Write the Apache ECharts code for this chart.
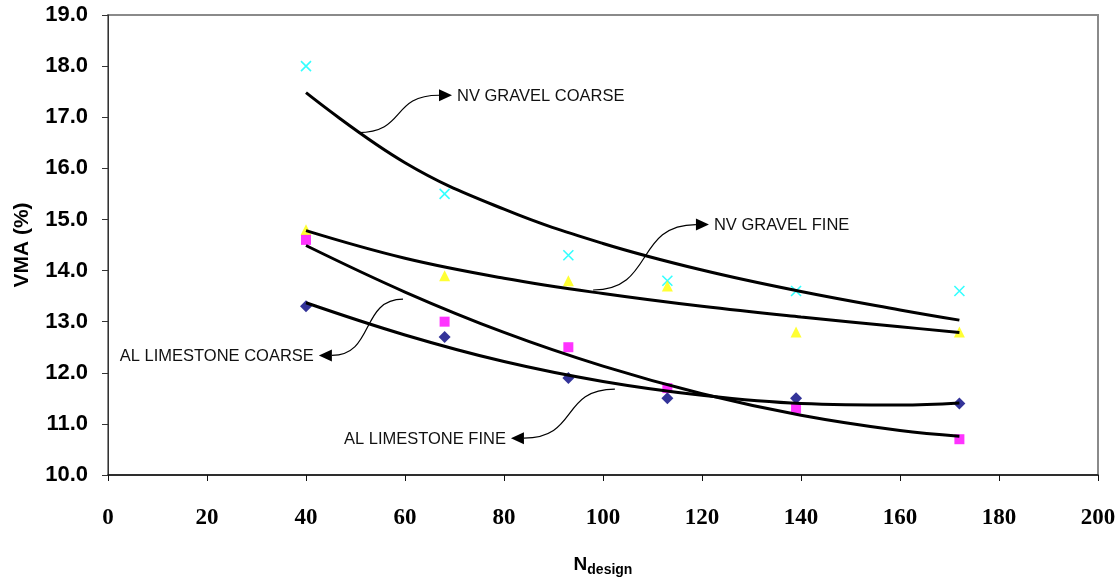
<!DOCTYPE html>
<html>
<head>
<meta charset="utf-8">
<script src="https://cdn.jsdelivr.net/npm/echarts@6/dist/echarts.min.js"></script>
<style>
  html, body { margin: 0; padding: 0; background: #fff; }
  #chart { width: 1119px; height: 582px; }
</style>
</head>
<body>
<div id="chart"></div>
<script>
// Measured VMA (%) at each N_design level
const nDesign = [40, 68, 93, 113, 139, 172];
const nvGravelCoarse = [18.0, 15.5, 14.3, 13.8, 13.6, 13.6];
const nvGravelFine = [14.8, 13.9, 13.8, 13.7, 12.8, 12.8];
const alLimestoneCoarse = [13.3, 12.7, 11.9, 11.5, 11.5, 11.4];
const alLimestoneFine = [14.6, 13.0, 12.5, 11.7, 11.3, 10.7];

// Trend curves, sampled along N_design
const trendN = [40, 60, 80, 100, 120, 140, 160, 172];
const nvGravelCoarseTrend = [17.48, 16.11, 15.20, 14.53, 14.01, 13.59, 13.23, 13.03];
const nvGravelFineTrend = [14.78, 14.24, 13.85, 13.55, 13.30, 13.09, 12.90, 12.79];
const alLimestoneCoarseTrend = [13.37, 12.74, 12.22, 11.83, 11.56, 11.40, 11.37, 11.41];
const alLimestoneFineTrend = [14.49, 13.58, 12.79, 12.13, 11.59, 11.17, 10.87, 10.76];

// Axis ticks
const xTicks = { min: 0, max: 200, interval: 20 };
const yTicks = { min: 10, max: 19, interval: 1 };

// Callout labels and where their arrows start / point (in data units)
const calloutText = ['NV GRAVEL COARSE', 'NV GRAVEL FINE', 'AL LIMESTONE COARSE', 'AL LIMESTONE FINE'];
const calloutFrom = [[50.5, 16.70], [98.0, 13.62], [59.6, 13.44], [102.4, 11.68]];
const calloutTip = [[69.5, 17.43], [121.4, 14.90], [42.6, 12.34], [81.4, 10.72]];

const pairs = (xs, ys) => xs.map((x, i) => [x, ys[i]]);

const markerSeries = (name, ys, symbol, size, itemStyle) => ({
  name, type: 'scatter', data: pairs(nDesign, ys),
  symbol, symbolSize: size, itemStyle, z: 2, silent: true
});

const trendSeries = (name, ys) => ({
  name, type: 'line', data: pairs(trendN, ys), smooth: 0.4,
  showSymbol: false, symbol: 'none',
  lineStyle: { color: '#000', width: 3 }, z: 3, silent: true
});

const calloutData = calloutText.map((t, i) => [calloutFrom[i][0], calloutFrom[i][1], calloutTip[i][0], calloutTip[i][1]]);

function renderCallout(params, api) {
  const s = api.coord([api.value(0), api.value(1)]);
  const t = api.coord([api.value(2), api.value(3)]);
  const dir = t[0] >= s[0] ? 1 : -1;
  const head = 13;
  const base = [t[0] - dir * head, t[1]];
  const a = 0.6 * Math.abs(base[0] - s[0]);
  return {
    type: 'group',
    children: [
      {
        type: 'bezierCurve',
        shape: {
          x1: s[0], y1: s[1],
          cpx1: s[0] + dir * a, cpy1: s[1],
          cpx2: base[0] - dir * a, cpy2: base[1],
          x2: base[0], y2: base[1]
        },
        style: { stroke: '#000', lineWidth: 1.2, fill: null }
      },
      {
        type: 'polygon',
        shape: { points: [[t[0], t[1]], [base[0], base[1] - 6], [base[0], base[1] + 6]] },
        style: { fill: '#000' }
      },
      {
        type: 'text',
        x: t[0] + dir * 5,
        y: t[1] + 1,
        style: {
          text: calloutText[params.dataIndex],
          fill: '#111',
          font: '16.5px "Liberation Sans", Arial, sans-serif',
          align: dir > 0 ? 'left' : 'right',
          verticalAlign: 'middle'
        }
      }
    ]
  };
}

const chart = echarts.init(document.getElementById('chart'), null, { renderer: 'canvas' });
chart.setOption({
  animation: false,
  backgroundColor: '#fff',
  grid: {
    left: 108, right: 21, top: 15, bottom: 102,
    show: true, borderColor: '#8a8a8a', borderWidth: 2, backgroundColor: 'transparent'
  },
  xAxis: {
    type: 'value', min: xTicks.min, max: xTicks.max, interval: xTicks.interval,
    axisLine: { show: true, lineStyle: { color: '#111', width: 1.5 } },
    axisTick: { show: true, length: 6, lineStyle: { color: '#111' } },
    splitLine: { show: false },
    axisLabel: {
      margin: 32, color: '#000', fontSize: 23, fontWeight: 'bold',
      fontFamily: '"Liberation Serif", "Times New Roman", serif'
    },
    name: '{n|N}{s|design}',
    nameLocation: 'middle',
    nameGap: 78,
    nameTextStyle: {
      rich: {
        n: { fontSize: 19, fontWeight: 'bold', fontFamily: '"Liberation Sans", Arial, sans-serif', color: '#000' },
        s: { fontSize: 14, fontWeight: 'bold', fontFamily: '"Liberation Sans", Arial, sans-serif', color: '#000', padding: [10, 0, 0, 0] }
      }
    }
  },
  yAxis: {
    type: 'value', min: yTicks.min, max: yTicks.max, interval: yTicks.interval,
    axisLine: { show: true, lineStyle: { color: '#333', width: 1 } },
    axisTick: { show: true, length: 6, lineStyle: { color: '#333' } },
    splitLine: { show: false },
    axisLabel: {
      margin: 20, color: '#000', fontSize: 22, fontWeight: 'bold',
      fontFamily: '"Liberation Sans", Arial, sans-serif',
      formatter: v => v.toFixed(1)
    },
    name: 'VMA (%)',
    nameLocation: 'middle',
    nameGap: 75,
    nameTextStyle: {
      fontSize: 21, fontWeight: 'bold', color: '#000',
      fontFamily: '"Liberation Sans", Arial, sans-serif'
    }
  },
  series: [
    markerSeries('NV GRAVEL COARSE', nvGravelCoarse, 'path://M0,0L10,10M10,0L0,10', 10,
      { color: 'rgba(0,0,0,0)', borderColor: '#00ffff', borderWidth: 1.6 }),
    markerSeries('NV GRAVEL FINE', nvGravelFine, 'triangle', 11, { color: '#ffff00' }),
    markerSeries('AL LIMESTONE COARSE', alLimestoneCoarse, 'diamond', [12, 12], { color: '#000080' }),
    markerSeries('AL LIMESTONE FINE', alLimestoneFine, 'rect', 10, { color: '#ff00ff' }),
    trendSeries('NV GRAVEL COARSE trend', nvGravelCoarseTrend),
    trendSeries('NV GRAVEL FINE trend', nvGravelFineTrend),
    trendSeries('AL LIMESTONE COARSE trend', alLimestoneCoarseTrend),
    trendSeries('AL LIMESTONE FINE trend', alLimestoneFineTrend),
    {
      type: 'custom', name: 'callouts', data: calloutData,
      renderItem: renderCallout, clip: false, z: 4, silent: true
    }
  ]
});
</script>
</body>
</html>
